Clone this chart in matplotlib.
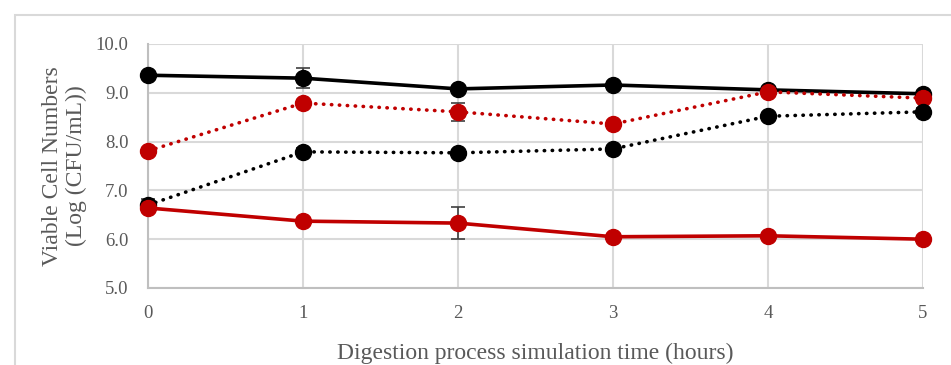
import matplotlib
matplotlib.use("Agg")
import matplotlib.pyplot as plt
from matplotlib.patches import Rectangle

hours = [0, 1, 2, 3, 4, 5]
black_solid = [9.36, 9.30, 9.08, 9.16, 9.06, 8.98]
black_solid_err = [0.05, 0.20, 0.05, 0.05, 0.05, 0.05]
red_dotted = [7.81, 8.79, 8.61, 8.36, 9.02, 8.89]
red_dotted_err = [0.06, 0.05, 0.19, 0.05, 0.05, 0.05]
black_dotted = [6.70, 7.79, 7.77, 7.85, 8.52, 8.61]
black_dotted_err = [0.12, 0.08, 0.05, 0.05, 0.05, 0.08]
red_solid = [6.64, 6.37, 6.33, 6.05, 6.07, 6.00]
red_solid_err = [0.05, 0.05, 0.33, 0.05, 0.05, 0.05]
yticks = [5.0, 6.0, 7.0, 8.0, 9.0, 10.0]

plt.rcParams['font.family'] = ['Liberation Serif', 'DejaVu Serif']
txt = '#595959'
grid = '#d9d9d9'

fig = plt.figure(figsize=(9.51, 3.65), dpi=100)
fig.patches.append(Rectangle((15/951, -0.1), 1.0, (365-15)/365 + 0.1, transform=fig.transFigure,
                             fill=False, edgecolor=grid, linewidth=1.5))
ax = fig.add_axes([148/951, 77/365, 775/951, 244/365])

red = '#c00000'
series = [
    (black_solid, black_solid_err, 'black', '-'),
    (red_dotted, red_dotted_err, red, (0, (0.1, 2.1))),
    (black_dotted, black_dotted_err, 'black', (0, (0.1, 2.1))),
    (red_solid, red_solid_err, red, '-'),
]
for vals, err, col, ls in series:
    line, caps, bars = ax.errorbar(hours, vals, yerr=err, color=col, linestyle=ls, linewidth=2.6,
                marker='o', markersize=11.5, ecolor='#404040', elinewidth=1.2,
                capsize=5, capthick=1.2, zorder=3)
    line.set_dash_capstyle('round')
    line.set_clip_on(False)
    for c in caps:
        c.set_clip_on(False)
    for b in bars:
        b.set_clip_on(False)

ax.set_xlim(0, 5)
ax.set_ylim(5, 10)
ax.set_yticks(yticks)
ax.set_yticklabels([f"{v:.1f}" for v in yticks])
ax.set_xticks(hours)
ax.grid(True, color=grid, linewidth=1.5, zorder=0)
ax.set_axisbelow(True)
for s in ['top', 'right']:
    ax.spines[s].set_visible(False)
for s in ['left', 'bottom']:
    ax.spines[s].set_color('#bfbfbf')
    ax.spines[s].set_linewidth(1.5)
ax.tick_params(length=0, labelsize=13.5, labelcolor=txt, pad=12)
ax.tick_params(axis='y', pad=14)
ax.set_ylabel("Viable Cell Numbers\n(Log (CFU/mL))", fontsize=17, color=txt, labelpad=6, linespacing=1.2)
ax.set_xlabel("Digestion process simulation time (hours)", fontsize=17, color=txt, labelpad=15)

fig.savefig("out.png", dpi=100)
